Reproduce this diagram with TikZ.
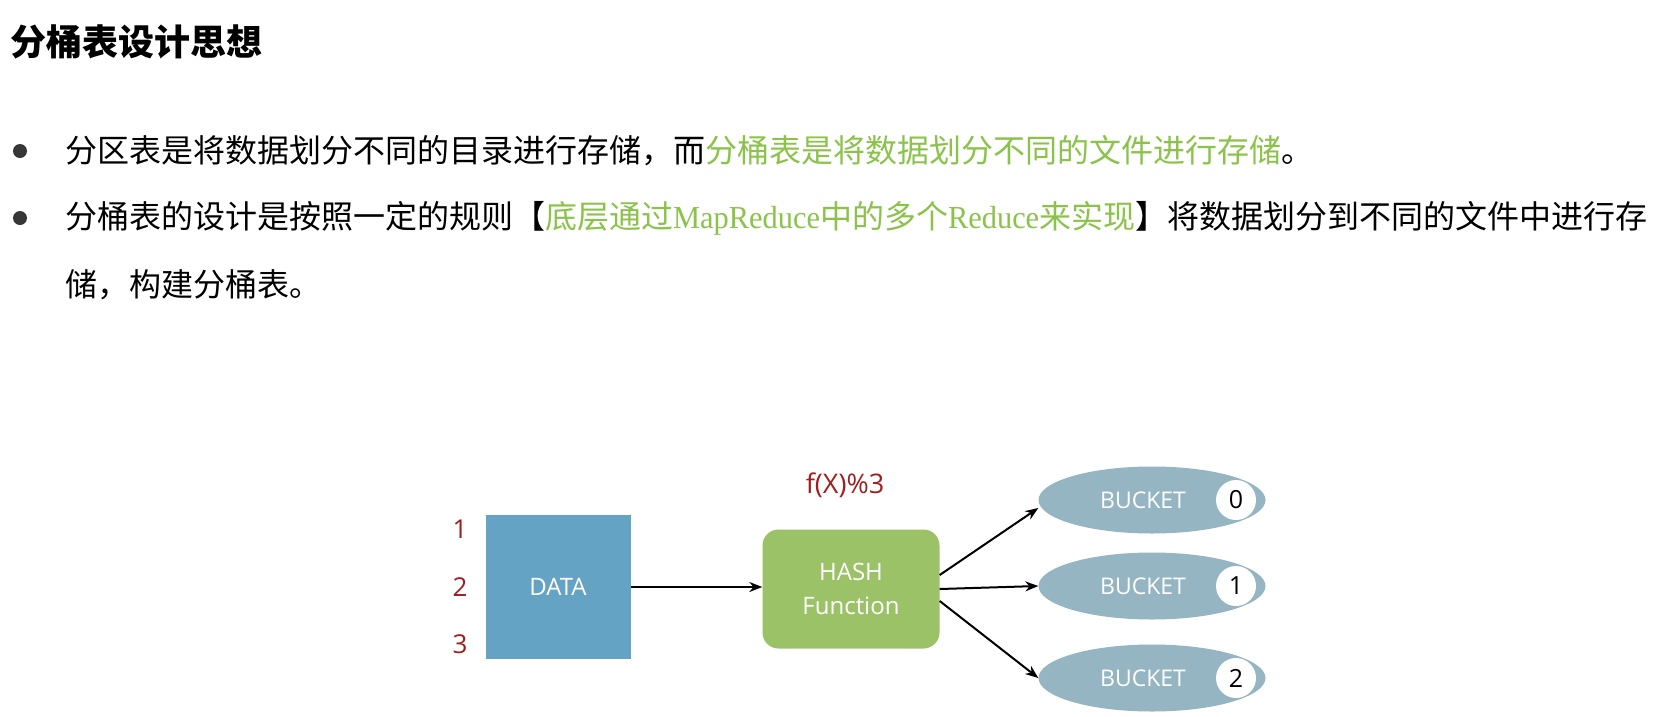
\documentclass[tikz,border=0pt]{standalone}
\usepackage{fontspec}
\setmainfont{Open Sans}
\newfontfamily\cjk{Noto Sans CJK SC}
\newfontfamily\latser[FakeStretch=0.95]{Liberation Serif}
\usetikzlibrary{arrows.meta, positioning, shapes.geometric}

\definecolor{databg}{RGB}{101,163,197}
\definecolor{hashbg}{RGB}{155,194,103}
\definecolor{bucketbg}{RGB}{148,181,193}
\definecolor{numred}{RGB}{160,30,30}
\definecolor{hlgreen}{RGB}{139,195,74}
\definecolor{dotgray}{RGB}{55,55,55}

\begin{document}
\begin{tikzpicture}[x=1pt, y=-1pt,
    body/.style={anchor=west, inner sep=0pt, font=\cjk\fontsize{32}{38}\selectfont},
    dot/.style={circle, fill=dotgray, minimum size=14pt, inner sep=0pt},
    databox/.style={rectangle, fill=databg, minimum width=145pt, minimum height=144pt,
        text=white, font=\fontsize{24}{28}\selectfont},
    hashbox/.style={rectangle, rounded corners=16pt, fill=hashbg, minimum width=177pt,
        minimum height=119pt, text=white, align=center, font=\fontsize{24}{34}\selectfont},
    bucket/.style={ellipse, fill=bucketbg, minimum width=227pt, minimum height=67pt, inner sep=0pt},
    bucketlbl/.style={text=white, font=\fontsize{23}{28}\selectfont},
    bnum/.style={circle, fill=white, minimum size=40pt, inner sep=0pt, font=\fontsize{25}{28}\selectfont},
    num/.style={text=numred, font=\fontsize{26}{30}\selectfont},
    link/.style={-{Stealth[length=13pt, width=10pt]}, line width=2pt}]

    \useasboundingbox[fill=white] (0,0) rectangle (1671,716);

    % Heading and bullet text
    \node (title) [anchor=west, inner sep=0pt, font=\cjk\bfseries\fontsize{36}{40}\selectfont] at (10,42) {分桶表设计思想};

    \node (dot1) [dot] at (20,151) {};
    \node (dot2) [dot] at (20,218) {};
    \node (line1) [body] at (65,151) {分区表是将数据划分不同的目录进行存储，而\textcolor{hlgreen}{分桶表是将数据划分不同的文件进行存储}。};
    \node (line2) [body] at (65,218) {分桶表的设计是按照一定的规则【\textcolor{hlgreen}{底层通过{\latser MapReduce}中的多个{\latser Reduce}来实现}】将数据划分到不同的文件中进行存};
    \node (line3) [body] at (65,285) {储，构建分桶表。};

    % Nodes
    \node (data) [databox] at (558,587) {DATA};
    \node (hash) [hashbox] at (851,589) {HASH\\Function};
    \node (mod) [text=numred, font=\fontsize{27}{30}\selectfont] at (845,485) {f(X)\%3};

    \node (one) [num] at (460,529) {1};
    \node (two) [num] at (460,587) {2};
    \node (three) [num] at (460,644) {3};

    \node (b0) [bucket] at (1152,500) {};
    \node (b1) [bucket] at (1152,586) {};
    \node (b2) [bucket] at (1152,678) {};

    % Labels inside the buckets
    \node (lbl0) [bucketlbl] at ([xshift=-9pt]b0.center) {BUCKET};
    \node (lbl1) [bucketlbl] at ([xshift=-9pt]b1.center) {BUCKET};
    \node (lbl2) [bucketlbl] at ([xshift=-9pt]b2.center) {BUCKET};
    \node (c0) [bnum] at ([xshift=84pt]b0.center) {0};
    \node (c1) [bnum] at ([xshift=84pt]b1.center) {1};
    \node (c2) [bnum] at ([xshift=84pt]b2.center) {2};

    % Arrows
    \draw[link] (data.east) -- (data.east -| hash.west);
    \draw[link] ([yshift=14pt]hash.east) -- ([yshift=-8pt]b0.west);
    \draw[link] (hash.east) -- (b1.west);
    \draw[link] ([yshift=-12pt]hash.east) -- (b2.west);

\end{tikzpicture}
\end{document}
